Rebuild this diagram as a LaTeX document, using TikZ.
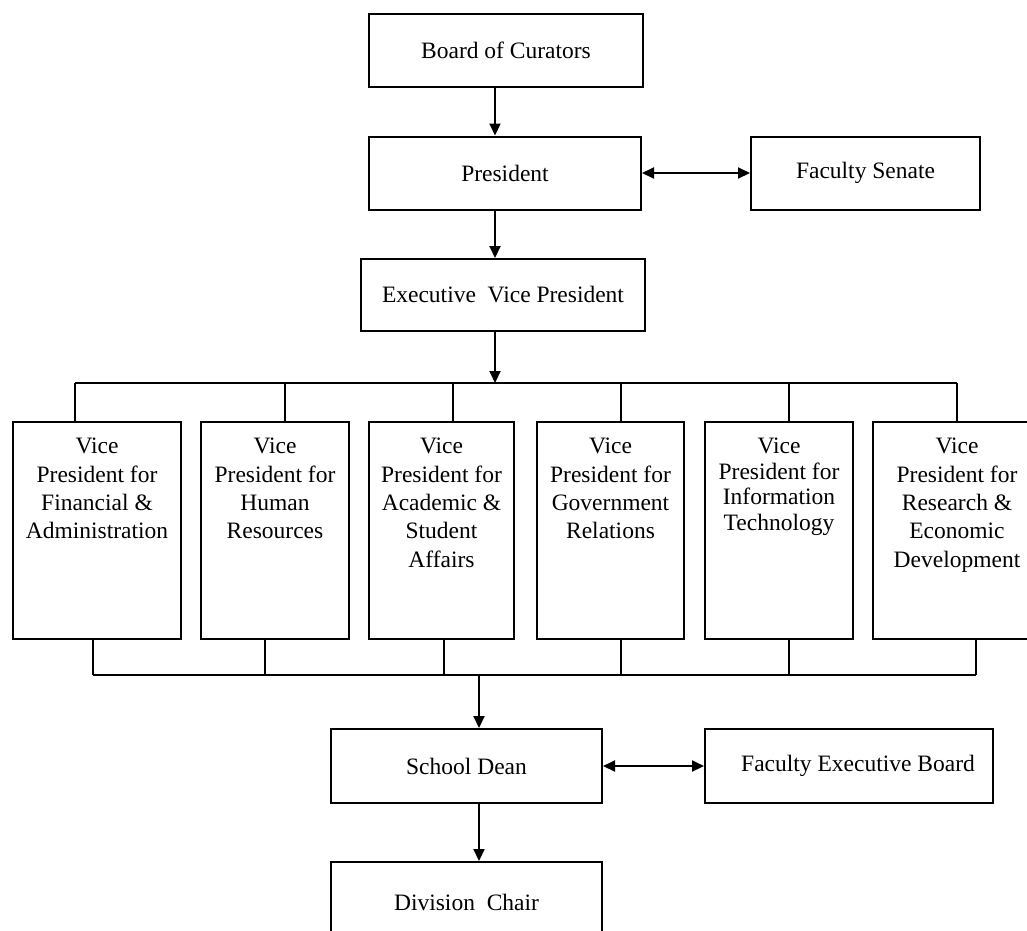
\documentclass[tikz,border=0pt]{standalone}
\usepackage{fontspec}
\setmainfont{Liberation Serif}
\usetikzlibrary{arrows.meta}

\begin{document}
\begin{tikzpicture}[x=1pt,y=-1pt,line width=2pt,
    every node/.style={font=\fontsize{23.5}{28.3}\selectfont},
    box/.style={draw,minimum width=#1,minimum height=73,inner sep=0},
    vpbox/.style={draw,minimum width=#1,minimum height=217,inner sep=0},
    arr/.style={-{Triangle[length=12pt,width=11pt]}},
    duo/.style={{Triangle[length=12pt,width=11pt]}-{Triangle[length=12pt,width=11pt]}}]
    \clip (0,0) rectangle (1027,930);
    \node[box=274] (curators) at (506,50.5) {Board of Curators};
    \node[box=272] (president) at (505,173) {President};
    \node[box=229] (senate) at (865.5,173) {Faculty Senate};
    \node[box=284,minimum height=72] (evp) at (503,295) {Executive\ \ Vice President};
    \coordinate (spine) at (495,0);
    \foreach \i/\x/\w/\t/\b/\ls/\txt in {
        1/97/168/75/93/28.3/{Vice\\President for\\Financial \&\\Administration},
        2/275/148/285/265/28.3/{Vice\\President for\\Human\\Resources},
        3/441.5/145/453/444/28.3/{Vice\\President for\\Academic \&\\Student\\Affairs},
        4/610.5/147/621/621/28.3/{Vice\\President for\\Government\\Relations},
        5/779/148/789/789/25.5/{Vice\\President for\\Information\\Technology},
        6/957/168/957/976/28.3/{Vice\\President for\\Research \&\\Economic\\Development}}{
        \node[vpbox=\w,label={[anchor=north,align=center,yshift=-13pt,
            font=\fontsize{23.5}{\ls}\selectfont]north:\txt}] (vp\i) at (\x,530.5) {};
        \coordinate (t\i) at (\t,383);
        \coordinate (b\i) at (\b,675);
        \draw (t\i) -- (t\i |- vp\i.north);
        \draw (b\i) -- (b\i |- vp\i.south);
    }
    \draw (t1) -- (t6);
    \draw (b1) -- (b6);
    \coordinate (join) at (479,675);
    \node[box=271,minimum height=74] (dean) at (466.5,766) {School Dean};
    \node[box=288,minimum height=74] (feb) at (849,766) {\hspace{18pt}Faculty Executive Board};
    \node[box=271,minimum height=80] (chair) at (466.5,902) {Division\ \ Chair};
    \draw[arr] (curators.south -| spine) -- (president.north -| spine);
    \draw[duo] (president) -- (senate);
    \draw[arr] (president.south -| spine) -- (evp.north -| spine);
    \draw[arr] (evp.south -| spine) -- (spine |- t1);
    \draw[arr] (join) -- (join |- dean.north);
    \draw[duo] (dean) -- (feb);
    \draw[arr] (dean.south -| join) -- (chair.north -| join);
\end{tikzpicture}
\end{document}
